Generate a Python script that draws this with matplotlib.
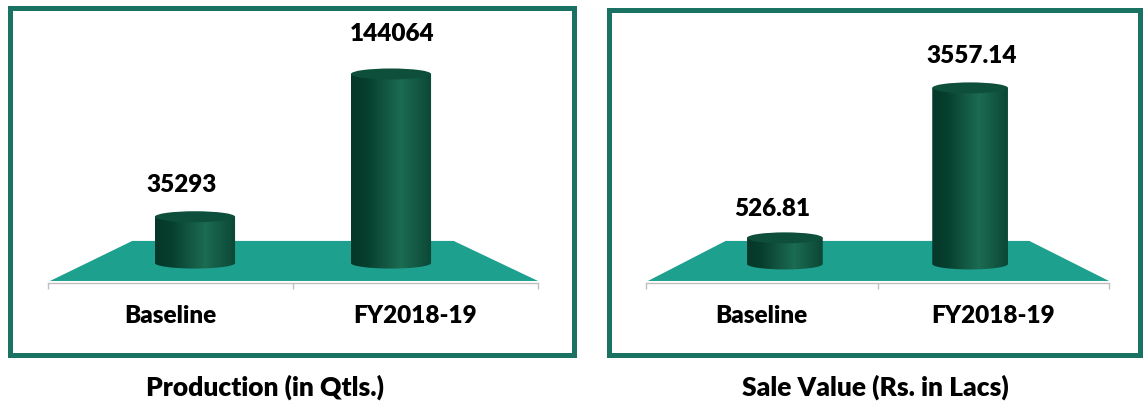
import matplotlib.pyplot as plt
import numpy as np
from matplotlib.patches import Ellipse, Rectangle, Polygon, PathPatch
from matplotlib.path import Path
from matplotlib.colors import LinearSegmentedColormap

# data
categories = ['Baseline', 'FY2018-19']
production = [35293, 144064]
production_labels = ['35293', '144064']
sale_value = [526.81, 3557.14]
sale_value_labels = ['526.81', '3557.14']
titles = ['Production (in Qtls.)', 'Sale Value (Rs. in Lacs)']

W, H = 1144, 403
FRAME = '#1a7263'
FLOOR = '#1ea08f'
TOP = '#0e4f3b'
AXIS = '#bfbfbf'
WEIGHT = 800
FS = 17.5
cyl_cmap = LinearSegmentedColormap.from_list(
    'cyl', [(0, '#05372a'), (0.2, '#073f2e'), (0.62, '#1c6b53'), (1, '#0b4734')])

plt.rcParams['font.family'] = ['Lato', 'DejaVu Sans']

fig = plt.figure(figsize=(W / 100, H / 100), dpi=100)


def px_axes(x0, y0, x1, y1):
    return fig.add_axes([x0 / W, 1 - y1 / H, (x1 - x0) / W, (y1 - y0) / H])


def frame(x0, y0, x1, y1):
    fig.patches.append(Rectangle((x0 / W, 1 - y1 / H), (x1 - x0) / W, (y1 - y0) / H,
                                 transform=fig.transFigure, fill=False,
                                 lw=3.6, ec=FRAME, zorder=0))


def draw_panel(ax, values, labels, ylim, label_off):
    ax.set_facecolor('none')
    # floor of the 3d chart
    ax.add_patch(Polygon([(0.004, 0.0075), (1.0, 0.0075), (0.828, 0.157), (0.172, 0.157)],
                         closed=True, transform=ax.transAxes, fc=FLOOR, ec='none', zorder=1))
    dy_px = (ylim[1] - ylim[0]) / ax.bbox.height
    eh = 11 * dy_px
    w = 0.327
    grad = np.linspace(0, 1, 256).reshape(1, -1)
    for i, (v, lab) in enumerate(zip(values, labels)):
        cx = 1 + (i - 0.5) * 0.8
        x0, x1 = cx - w / 2, cx + w / 2
        t = np.linspace(np.pi, 2 * np.pi, 60)
        verts = [(x0, v), (x0, 0)] + list(zip(cx + w / 2 * np.cos(t), eh / 2 * np.sin(t))) + [(x1, v), (x0, v)]
        body = PathPatch(Path(verts), transform=ax.transData, fc='none', ec='none')
        ax.add_patch(body)
        im = ax.imshow(grad, extent=[x0, x1, -eh, v], cmap=cyl_cmap, aspect='auto', zorder=2)
        im.set_clip_path(body)
        ax.add_patch(Ellipse((cx, v), w, eh, fc=TOP, ec='none', zorder=3))
        ax.annotate(lab, (cx, v), xytext=label_off[i], textcoords='offset points',
                    ha='center', va='center', fontsize=FS, fontweight=WEIGHT)
    ax.set_xlim(0, 2)
    ax.set_ylim(*ylim)
    ax.set_xticks([0, 1, 2])
    ax.set_xticklabels([])
    ax.set_xticks([0.5, 1.5], minor=True)
    ax.set_xticklabels(categories, minor=True, fontsize=FS, fontweight=WEIGHT)
    ax.tick_params(axis='x', which='major', length=4.5, color=AXIS, width=1)
    ax.tick_params(axis='x', which='minor', length=0, pad=16)
    ax.set_yticks([])
    for s in ['left', 'top', 'right']:
        ax.spines[s].set_visible(False)
    ax.spines['bottom'].set_color(AXIS)
    ax.spines['bottom'].set_linewidth(1)


frame(9.7, 8.3, 574.5, 354.5)
frame(608.5, 9.5, 1139.5, 354.5)

ax1 = px_axes(48, 15, 538, 283)
draw_panel(ax1, production, production_labels, (-15200, 189000), [(-10, 23), (1, 29)])
ax2 = px_axes(646, 15, 1109, 283)
draw_panel(ax2, sale_value, sale_value_labels, (-385, 5030), [(-9, 21), (1, 23)])

fig.text(265 / W, 1 - 387 / H, titles[0], ha='center', va='center', fontsize=19, fontweight=WEIGHT)
fig.text(875 / W, 1 - 387 / H, titles[1], ha='center', va='center', fontsize=19, fontweight=WEIGHT)

fig.savefig('out.png', dpi=100)
